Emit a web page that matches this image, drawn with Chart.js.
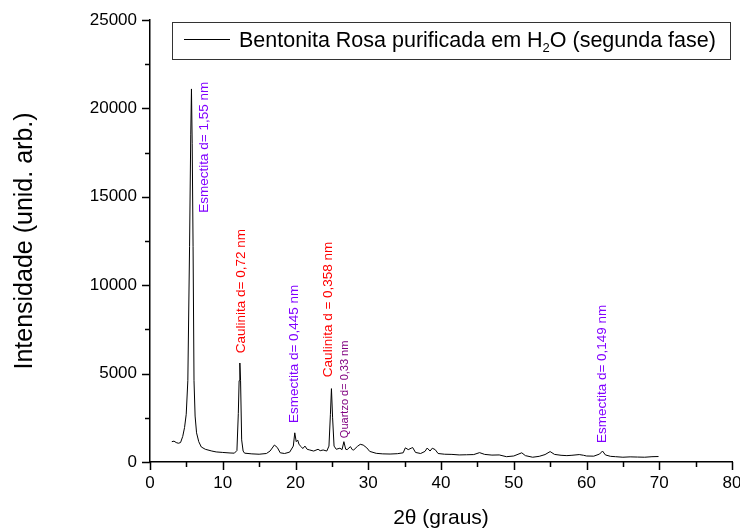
<!DOCTYPE html>
<html>
<head>
<meta charset="utf-8">
<script src="https://cdn.jsdelivr.net/npm/chart.js@4.4.1/dist/chart.umd.min.js"></script>
<style>
  html, body { margin: 0; padding: 0; background: #fff; }
  #wrap { width: 740px; height: 532px; }
</style>
</head>
<body>
<div id="wrap"><canvas id="xrdChart" width="740" height="532"></canvas></div>
<script>
// Diffractogram: 2θ (graus) and intensity (unid. arb.)
const twoTheta = [
    3.0, 3.3, 3.6, 3.9, 4.2, 4.5, 4.75, 4.98, 5.2, 5.44, 5.6, 5.7, 5.8, 5.92, 6.05, 6.2, 6.4, 6.7,
    7.05, 7.6, 8.5, 9.1, 10.0, 11.0, 11.6, 11.95, 12.14, 12.25, 12.35, 12.45, 12.6, 12.8, 13.0,
    14.0, 15.0, 16.0, 16.5, 17.1, 17.5, 17.9, 18.5, 19.2, 19.7, 19.9, 20.1, 20.3, 20.5, 20.8,
    21.0, 21.3, 21.6, 21.95, 22.5, 23.1, 23.4, 23.8, 24.3, 24.6, 24.8, 24.94, 25.1, 25.3, 25.6,
    26.1, 26.4, 26.65, 26.9, 27.1, 27.55, 27.8, 28.0, 28.5, 28.9, 29.3, 29.8, 30.2, 31.1, 32.0,
    33.0, 34.0, 34.8, 35.1, 35.5, 35.9, 36.1, 36.5, 37.2, 37.8, 38.1, 38.5, 38.8, 39.2, 39.6,
    40.5, 41.5, 42.5, 43.5, 44.5, 45.3, 46.0, 47.0, 48.0, 49.0, 50.0, 51.1, 51.6, 52.6, 53.5,
    54.3, 55.0, 55.6, 56.5, 57.3, 58.0, 59.0, 59.6, 60.0, 61.0, 61.8, 62.2, 62.6, 63.3, 64.0,
    65.0, 66.0, 67.0, 68.0, 69.0, 69.9
];
const intensity = [
    1150, 1180, 1100, 1060, 1100, 1450, 1950, 2700, 4600, 12200, 18500, 21100, 18000, 12200, 4600, 2600, 1650, 1150,
    850, 720, 620, 570, 540, 510, 500, 650, 2750, 4600, 5600, 4600, 1250, 620, 500,
    460, 440, 480, 620, 960, 820, 520, 480, 560, 900, 1650, 1150, 1240, 980, 860,
    760, 900, 720, 680, 620, 720, 640, 680, 620, 900, 2700, 4150, 2500, 900, 720,
    780, 700, 1150, 720, 700, 870, 700, 680, 880, 1000, 960, 800, 600, 490, 460,
    450, 470, 520, 800, 700, 780, 820, 540, 480, 600, 790, 620, 780, 700, 480,
    440, 430, 400, 410, 420, 530, 430, 390, 400, 300, 340, 520, 360, 270, 320,
    420, 590, 430, 380, 360, 380, 420, 380, 340, 330, 450, 620, 400, 320, 300,
    270, 290, 280, 270, 300, 310
];

const seriesName = 'Bentonita Rosa purificada em H';
const seriesSub = '2';
const seriesTail = 'O (segunda fase)';

// Peak annotations: text, anchor (2θ, intensity of text start) and colour
const peakText = [
    'Esmectita d= 1,55 nm',
    'Caulinita d= 0,72 nm',
    'Esmectita d= 0,445 nm',
    'Caulinita d = 0,358 nm',
    'Quartzo d= 0,33 nm',
    'Esmectita d= 0,149 nm'
];
const peakX = [7.5, 12.55, 19.9, 24.47, 26.77, 62.14];
const peakY = [14100, 6150, 2200, 4800, 1350, 1070];
const peakColor = ['#8000FF', '#FF0000', '#8000FF', '#FF0000', '#800080', '#8000FF'];
const peakFont = [13.5, 13.5, 13.5, 13.5, 11, 13.5];

const FONT = "'Liberation Sans', Arial, sans-serif";

// major + minor tick marks drawn outward
const tickMarks = {
    id: 'tickMarks',
    afterDraw(chart) {
        const { ctx, chartArea, scales } = chart;
        ctx.save();
        ctx.strokeStyle = '#000';
        ctx.lineWidth = 1.5;
        ctx.beginPath();
        for (let v = 0; v <= 80; v += 5) {
            const px = Math.round(scales.x.getPixelForValue(v)) + 0.5;
            const len = v % 10 === 0 ? 8 : 5;
            ctx.moveTo(px, chartArea.bottom);
            ctx.lineTo(px, chartArea.bottom + len);
        }
        for (let v = 0; v <= 25000; v += 2500) {
            const py = Math.round(scales.y.getPixelForValue(v)) + 0.5;
            const len = v % 5000 === 0 ? 8 : 5;
            ctx.moveTo(chartArea.left, py);
            ctx.lineTo(chartArea.left - len, py);
        }
        ctx.stroke();
        ctx.restore();
    }
};

const peakLabels = {
    id: 'peakLabels',
    afterDatasetsDraw(chart) {
        const { ctx, scales } = chart;
        peakText.forEach((txt, i) => {
            const px = scales.x.getPixelForValue(peakX[i]);
            const py = scales.y.getPixelForValue(peakY[i]);
            ctx.save();
            ctx.translate(px, py);
            ctx.rotate(-Math.PI / 2);
            ctx.font = peakFont[i] + 'px ' + FONT;
            ctx.fillStyle = peakColor[i];
            ctx.textAlign = 'left';
            ctx.textBaseline = 'middle';
            ctx.fillText(txt, 0, 0);
            ctx.restore();
        });
    }
};

// legend box with subscript, placed in the upper right of the plot
const legendBox = {
    id: 'legendBox',
    afterDraw(chart) {
        const { ctx, chartArea } = chart;
        const right = chartArea.right - 2;
        const x0 = 172, y0 = 22, h = 37;
        ctx.save();
        ctx.fillStyle = '#fff';
        ctx.strokeStyle = '#333';
        ctx.lineWidth = 1;
        ctx.fillRect(x0, y0, right - x0, h);
        ctx.strokeRect(x0 + 0.5, y0 + 0.5, right - x0, h);
        ctx.strokeStyle = '#000';
        ctx.beginPath();
        ctx.moveTo(184, y0 + 17.5);
        ctx.lineTo(230, y0 + 17.5);
        ctx.stroke();
        ctx.fillStyle = '#000';
        ctx.textBaseline = 'alphabetic';
        ctx.font = '21.5px ' + FONT;
        let x = 239;
        const base = y0 + 25;
        ctx.fillText(seriesName, x, base);
        x += ctx.measureText(seriesName).width;
        ctx.font = '13px ' + FONT;
        ctx.fillText(seriesSub, x, base + 5);
        x += ctx.measureText(seriesSub).width;
        ctx.font = '21.5px ' + FONT;
        ctx.fillText(seriesTail, x, base);
        ctx.restore();
    }
};

const points = twoTheta.map((t, i) => ({ x: t, y: intensity[i] }));

new Chart(document.getElementById('xrdChart'), {
    type: 'line',
    data: {
        datasets: [{
            label: seriesName + seriesSub + seriesTail,
            data: points,
            borderColor: '#000',
            borderWidth: 1,
            pointRadius: 0,
            tension: 0,
            fill: false
        }]
    },
    options: {
        responsive: false,
        animation: false,
        layout: { padding: { top: 20, right: 8, left: 0, bottom: 0 } },
        plugins: {
            legend: { display: false },
            tooltip: { enabled: false }
        },
        scales: {
            x: {
                type: 'linear',
                min: 0,
                max: 80,
                grid: { display: false, tickLength: 8 },
                border: { display: true, color: '#000', width: 1.5 },
                ticks: {
                    stepSize: 10,
                    color: '#000',
                    padding: 3,
                    maxRotation: 0,
                    font: { family: FONT, size: 17 },
                    callback: value => String(value)
                },
                title: {
                    display: true,
                    text: '2θ (graus)',
                    color: '#000',
                    font: { family: FONT, size: 21 },
                    padding: { top: 0, bottom: 1 }
                },
                afterFit(scale) {
                    scale.height = 70;
                    scale.paddingLeft = 0;
                    scale.paddingRight = 0;
                }
            },
            y: {
                min: 0,
                max: 25000,
                grid: { display: false, tickLength: 8 },
                border: { display: true, color: '#000', width: 1.5 },
                ticks: {
                    stepSize: 5000,
                    color: '#000',
                    padding: 5,
                    font: { family: FONT, size: 17 },
                    callback: value => String(value)
                },
                title: {
                    display: true,
                    text: 'Intensidade (unid. arb.)',
                    color: '#000',
                    font: { family: FONT, size: 25 },
                    padding: { top: 10, bottom: 0 }
                },
                afterFit(scale) {
                    scale.width = 150;
                    scale.paddingTop = 0;
                    scale.paddingBottom = 0;
                }
            }
        }
    },
    plugins: [tickMarks, peakLabels, legendBox]
});
</script>
</body>
</html>
